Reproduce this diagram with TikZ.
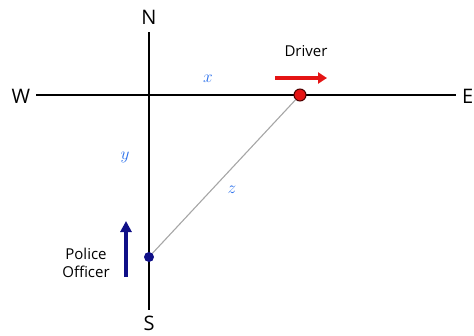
\documentclass[tikz,border=0pt]{standalone}
\usepackage{fontspec}
\setmainfont{Open Sans}
\usetikzlibrary{arrows.meta}
\definecolor{lblblue}{RGB}{40,110,235}
\definecolor{drvred}{RGB}{228,20,20}
\definecolor{copblue}{RGB}{15,15,135}
\tikzset{
  axis/.style={line width=2.6pt, black},
  dir/.style={font=\fontsize{20}{22}\selectfont, inner sep=0pt},
  lbl/.style={font=\fontsize{15}{18}\selectfont, inner sep=0pt, align=left},
  var/.style={text=lblblue, font=\fontsize{17}{19}\selectfont, inner sep=0pt},
  dot/.style={circle, inner sep=0pt},
}
\begin{document}
\begin{tikzpicture}[x=1pt,y=-1pt]
\useasboundingbox (0,0) rectangle (474,335);
\coordinate (wend) at (36,95);
\coordinate (eend) at (456,95);
\coordinate (nend) at (149,32);
\coordinate (send) at (149,310);
\node[dir] (W) at (21,96) {W};
\node[dir, anchor=west] (E) at (462,96) {E};
\node[dir] (N) at (149,17) {N};
\node[dir] (S) at (149,323) {S};
\draw[axis] (wend) -- (eend);
\draw[axis] (nend) -- (send);
\node[dot, minimum size=12pt, fill=drvred, draw=black!70!red, line width=1pt] (drv) at (300,95) {};
\node[dot, minimum size=10pt, fill=copblue] (cop) at (149,257) {};
\draw[gray!70, line width=1.1pt] (cop) -- (drv);
\node[lbl] (dlab) at (306,51) {Driver};
\node[lbl, align=center] (clab) at (86,263) {Police\\[0pt]Officer};
\coordinate (ra) at (275,78);
\coordinate (rb) at (327,78);
\draw[drvred, line width=3.5pt, -{Triangle[length=9pt,width=11pt]}] (ra) -- (rb);
\coordinate (ba) at (126,277);
\coordinate (bb) at (126,221);
\draw[copblue, line width=3.5pt, -{Triangle[length=11pt,width=11pt]}] (ba) -- (bb);
\node[var] (xl) at (208,79) {$x$};
\node[var] (yl) at (125,157) {$y$};
\node[var] (zl) at (232,190) {$z$};
\end{tikzpicture}
\end{document}
